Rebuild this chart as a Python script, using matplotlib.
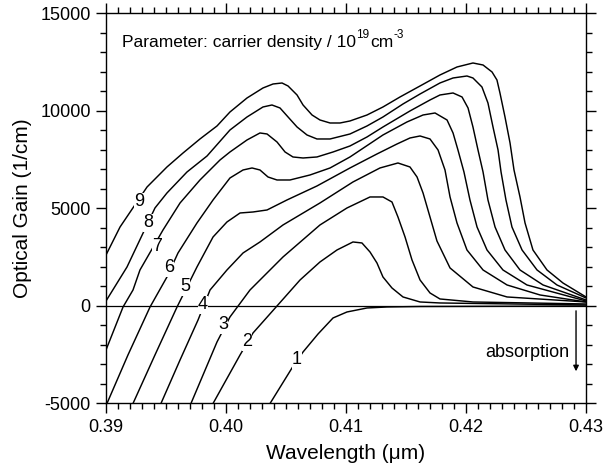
import matplotlib
matplotlib.use("Agg")
import matplotlib.pyplot as plt
from matplotlib.ticker import MultipleLocator

plt.rcParams['font.family'] = ['Liberation Sans', 'DejaVu Sans']
plt.rcParams['axes.unicode_minus'] = False

# ---- data (wavelength in um, gain in 1/cm) ----
c9_x = [0.39000, 0.39117, 0.39342, 0.39508, 0.39642, 0.39783, 0.39925, 0.40033, 0.40175, 0.40308,
        0.40392, 0.40467, 0.40517, 0.40592, 0.40642, 0.40717, 0.40783, 0.40867, 0.40950, 0.41033,
        0.41175, 0.41308, 0.41450, 0.41617, 0.41783, 0.41925, 0.42058, 0.42142, 0.42217, 0.42258,
        0.42283, 0.42325, 0.42367, 0.42400, 0.42450, 0.42492, 0.42558, 0.42675, 0.42808, 0.43000]
c9_y = [2615, 4051, 6102, 7128, 7846, 8564, 9231, 9948, 10666, 11179,
        11384, 11435, 11282, 10820, 10307, 9794, 9538, 9384, 9384, 9487,
        9794, 10205, 10718, 11282, 11846, 12256, 12461, 12358, 12000, 11589,
        10923, 9692, 8359, 6974, 5590, 4256, 2872, 1846, 1179, 462]

c8_x = [0.39000, 0.39175, 0.39408, 0.39508, 0.39675, 0.39842, 0.40033, 0.40175, 0.40308, 0.40383,
        0.40450, 0.40517, 0.40592, 0.40675, 0.40758, 0.40867, 0.41033, 0.41175, 0.41308, 0.41475,
        0.41617, 0.41783, 0.41892, 0.42008, 0.42058, 0.42133, 0.42183, 0.42225, 0.42267, 0.42292,
        0.42333, 0.42383, 0.42467, 0.42592, 0.42758, 0.43000]
c8_y = [256, 2000, 5025, 5795, 6872, 7692, 9025, 9692, 10205, 10307,
        10154, 9692, 9179, 8769, 8564, 8564, 8820, 9231, 9692, 10359,
        10871, 11436, 11692, 11794, 11692, 11230, 10410, 9179, 8000, 6872,
        5436, 4051, 2872, 1846, 1077, 410]

c7_x = [0.39000, 0.39142, 0.39225, 0.39283, 0.39475, 0.39617, 0.39783, 0.39950, 0.40033, 0.40175,
        0.40283, 0.40342, 0.40425, 0.40492, 0.40558, 0.40642, 0.40758, 0.40892, 0.41033, 0.41175,
        0.41308, 0.41533, 0.41700, 0.41783, 0.41892, 0.41967, 0.42017, 0.42058, 0.42100, 0.42142,
        0.42183, 0.42242, 0.42325, 0.42450, 0.42642, 0.43000]
c7_y = [-2256, -51, 820, 1846, 3897, 5282, 6461, 7487, 7897, 8513,
        8872, 8820, 8410, 7897, 7641, 7589, 7641, 7897, 8205, 8667,
        9179, 10000, 10564, 10820, 10923, 10718, 10154, 9179, 8000, 6872,
        5436, 4051, 2872, 1846, 1077, 308]

c6_x = [0.39008, 0.39183, 0.39367, 0.39508, 0.39600, 0.39758, 0.39892, 0.40033, 0.40142, 0.40217,
        0.40283, 0.40350, 0.40425, 0.40533, 0.40700, 0.40867, 0.41033, 0.41308, 0.41508, 0.41642,
        0.41742, 0.41842, 0.41892, 0.41933, 0.41983, 0.42033, 0.42092, 0.42175, 0.42308, 0.42508,
        0.43000]
c6_y = [-5000, -2513, -51, 1487, 2718, 4256, 5436, 6564, 6974, 7077,
        6974, 6615, 6461, 6461, 6718, 7077, 7641, 8769, 9436, 9794,
        9897, 9538, 8872, 8000, 6872, 5436, 4051, 2872, 1846, 1077,
        256]

c5_x = [0.39225, 0.39408, 0.39592, 0.39758, 0.39892, 0.40008, 0.40117, 0.40225, 0.40342, 0.40508,
        0.40758, 0.41033, 0.41258, 0.41425, 0.41533, 0.41617, 0.41700, 0.41767, 0.41825, 0.41867,
        0.41925, 0.42008, 0.42142, 0.42342, 0.42617, 0.43000]
c5_y = [-5000, -2513, -51, 2000, 3538, 4308, 4769, 4820, 4923, 5436,
        6154, 7077, 7795, 8307, 8615, 8718, 8564, 8000, 6974, 5590,
        4256, 2872, 1846, 1077, 564, 205]

c4_x = [0.39458, 0.39617, 0.39767, 0.39867, 0.40008, 0.40142, 0.40283, 0.40475, 0.40783, 0.41058,
        0.41283, 0.41433, 0.41533, 0.41592, 0.41642, 0.41700, 0.41758, 0.41867, 0.42058, 0.42342,
        0.43000]
c4_y = [-5000, -2769, -718, 820, 1846, 2718, 3282, 4154, 5282, 6359,
        7077, 7333, 7128, 6615, 5795, 4564, 3333, 1949, 974, 462,
        205]

c3_x = [0.39708, 0.39925, 0.40033, 0.40200, 0.40475, 0.40783, 0.41008, 0.41200, 0.41308, 0.41383,
        0.41433, 0.41492, 0.41550, 0.41617, 0.41700, 0.41783, 0.42058, 0.43000]
c3_y = [-5000, -1846, -564, 820, 2513, 4154, 5025, 5590, 5590, 5333,
        4564, 3538, 2359, 1333, 667, 359, 205, 103]

c2_x = [0.39892, 0.40117, 0.40225, 0.40425, 0.40617, 0.40783, 0.40925, 0.41058, 0.41133, 0.41200,
        0.41258, 0.41308, 0.41383, 0.41475, 0.41617, 0.41783, 0.43000]
c2_y = [-5000, -2513, -1385, 0, 1333, 2256, 2872, 3282, 3231, 2769,
        2205, 1487, 923, 462, 205, 154, 51]

c1_x = [0.40367, 0.40550, 0.40642, 0.40767, 0.40892, 0.41008, 0.41175, 0.41342, 0.41617, 0.43000]
c1_y = [-5000, -3179, -2359, -1436, -615, -308, -103, -51, -26, -5]

curves = [(c1_x, c1_y), (c2_x, c2_y), (c3_x, c3_y), (c4_x, c4_y), (c5_x, c5_y),
          (c6_x, c6_y), (c7_x, c7_y), (c8_x, c8_y), (c9_x, c9_y)]

label_text = ["1", "2", "3", "4", "5", "6", "7", "8", "9"]
label_x = [0.40592, 0.40175, 0.39975, 0.39808, 0.39658, 0.39525, 0.39425, 0.39350, 0.39275]
label_y = [-2769, -1846, -974, 51, 974, 1949, 3026, 4256, 5333]

# ---- figure ----
fig = plt.figure(figsize=(6.03, 4.73), dpi=100)
ax = fig.add_axes([0.1758, 0.147, 0.796, 0.8245])

for xs, ys in curves:
    ax.plot(xs, ys, color='black', lw=1.05, solid_joinstyle='round',
            solid_capstyle='round', zorder=2)

ax.axhline(0, color='black', lw=0.9, zorder=2)

for t, lx, ly in zip(label_text, label_x, label_y):
    ax.text(lx, ly, t, fontsize=13, ha='center', va='center', zorder=5,
            bbox=dict(facecolor='white', edgecolor='none', pad=0.3))

# title-like annotation built from plain text pieces (hyphen minus as in the original)
t0 = ax.text(0.3913, 13500, "Parameter: carrier density / 10", fontsize=12.5,
             ha='left', va='center')
t1 = ax.annotate("19", xy=(1, 0.62), xycoords=t0, fontsize=8.5, ha='left', va='bottom')
t2 = ax.annotate("cm", xy=(1, 0), xycoords=(t1, t0), xytext=(1, 0),
                 textcoords='offset points', fontsize=12.5, ha='left', va='bottom')
t3 = ax.annotate("-3", xy=(1, 0.62), xycoords=(t2, t0), fontsize=8.5, ha='left', va='bottom')

ax.text(0.4286, -2410, "absorption", fontsize=13, ha='right', va='center')
ax.annotate("", xy=(0.42917, -3350), xytext=(0.42917, -250),
            arrowprops=dict(arrowstyle='-|>', color='black', lw=1.0,
                            mutation_scale=8, shrinkA=0, shrinkB=0))

ax.set_xlim(0.39, 0.43)
ax.set_ylim(-5000, 15000)
ax.xaxis.set_major_locator(MultipleLocator(0.01))
ax.xaxis.set_minor_locator(MultipleLocator(0.001))
ax.yaxis.set_major_locator(MultipleLocator(5000))
ax.yaxis.set_minor_locator(MultipleLocator(1000))
ax.set_xticks([0.39, 0.40, 0.41, 0.42, 0.43])
ax.set_xticklabels(["0.39", "0.40", "0.41", "0.42", "0.43"])

ax.tick_params(which='both', direction='out', top=True, right=True,
               labeltop=False, labelright=False, width=1.0, labelsize=13)
ax.tick_params(which='major', length=7, pad=4)
ax.tick_params(which='minor', length=4)
for s in ax.spines.values():
    s.set_linewidth(1.0)

ax.set_xlabel("Wavelength (\u03bcm)", fontsize=15, labelpad=6)
ax.set_ylabel("Optical Gain (1/cm)", fontsize=15, labelpad=6)

fig.savefig("out.png", dpi=100)
